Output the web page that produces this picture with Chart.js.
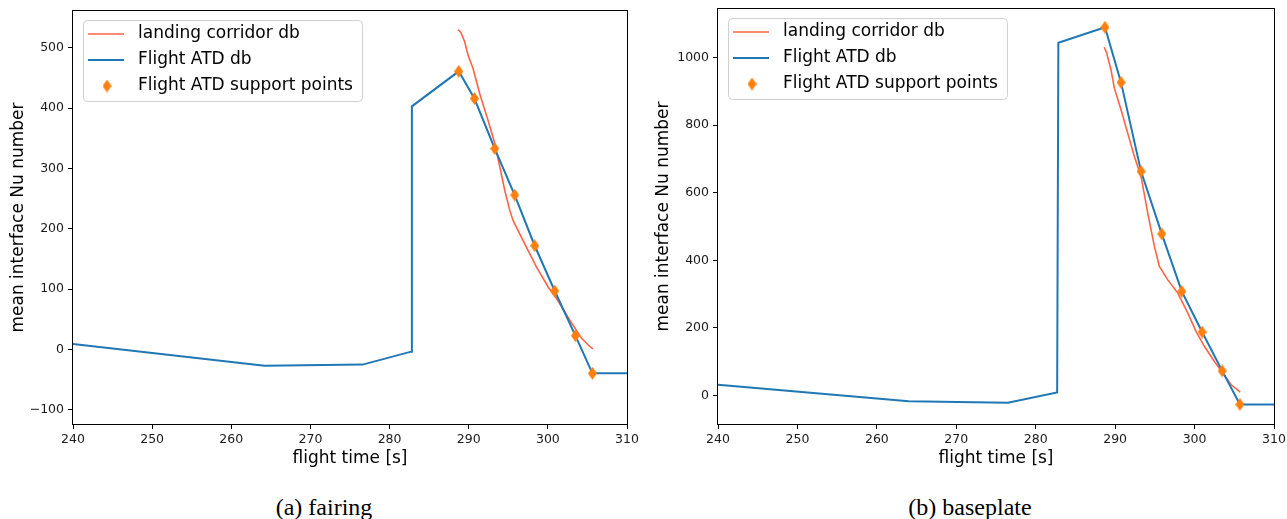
<!DOCTYPE html>
<html lang="en">
<head>
    <meta charset="UTF-8">
    <title>mean interface Nu number</title>
    <style>
        body { margin: 0; background: #fff; }
        #page { position: relative; width: 1287px; height: 519px; overflow: hidden; }
        canvas { position: absolute; top: 0; }
        #fairingChart { left: 0; }
        #baseplateChart { left: 645px; }
        .caption {
            position: absolute; top: 493px; width: 300px; text-align: center;
            font-family: "Liberation Serif", "DejaVu Serif", serif; font-size: 24px; line-height: 28px; color: #000;
        }
    </style>
</head>
<body>
<div id="page">
    <canvas id="fairingChart" width="640" height="480"></canvas>
    <canvas id="baseplateChart" width="642" height="480"></canvas>
    <div class="caption" style="left:174px">(a) fairing</div>
    <div class="caption" style="left:820px">(b) baseplate</div>
</div>

<script src="https://cdn.jsdelivr.net/npm/chart.js"></script>
<script>
    const timeTicks = [240, 250, 260, 270, 280, 290, 300, 310];

    // (a) fairing
    const fairingTicks = [-100, 0, 100, 200, 300, 400, 500];
    const fairingCorridorTime = [288.65, 288.99, 289.49, 289.91, 290.54, 291.39, 292.44, 293.29, 293.92, 294.55, 295.18, 295.6, 296.86, 298.55, 300.02, 301.08, 302.76, 304.24, 305.29, 305.7];
    const fairingCorridorNu = [530, 526, 510, 488, 466, 424, 380, 342, 303, 264, 231, 214, 181, 137, 104, 85, 49, 19, 5, 1];
    const fairingAtdTime = [240, 264.2, 276.6, 282.72, 282.82, 288.74, 290.72, 293.29, 295.81, 298.34, 300.87, 303.48, 305.63, 310];
    const fairingAtdNu = [9, -27, -25, -3.5, 403, 461, 416, 333, 256, 172, 97, 23, -39.5, -39.5];
    const fairingSupportTime = [288.74, 290.72, 293.29, 295.81, 298.34, 300.87, 303.48, 305.63];
    const fairingSupportNu = [461, 416, 333, 256, 172, 97, 23, -39.5];

    // (b) baseplate
    const baseplateTicks = [0, 200, 400, 600, 800, 1000];
    const baseplateCorridorTime = [288.63, 288.93, 289.48, 289.9, 290.74, 291.58, 292.42, 293.26, 294.1, 294.94, 295.57, 296.63, 297.89, 299.15, 300.2, 301.25, 302.5, 303.57, 304.61, 305.75];
    const baseplateCorridorNu = [1030, 1013, 963, 909, 845, 776, 707, 648, 540, 441, 382, 342, 303, 244, 189, 145, 101, 66, 32, 10];
    const baseplateAtdTime = [240, 264.0, 276.5, 282.7, 282.85, 288.72, 290.74, 293.26, 295.87, 298.39, 300.95, 303.48, 305.71, 310];
    const baseplateAtdNu = [32, -17, -21, 9, 1043, 1089, 926, 663, 478, 308, 188, 73, -26, -26];
    const baseplateSupportTime = [288.72, 290.74, 293.26, 295.87, 298.39, 300.95, 303.48, 305.71];
    const baseplateSupportNu = [1089, 926, 663, 478, 308, 188, 73, -26];

    const pts = (xs, ys) => xs.map((x, i) => ({ x: x, y: ys[i] }));

    // thin diamond like matplotlib 'd'
    const diamond = document.createElement('canvas');
    diamond.width = 9;
    diamond.height = 13;
    const dctx = diamond.getContext('2d');
    dctx.fillStyle = '#ff7f0e';
    dctx.beginPath();
    dctx.moveTo(4.5, 0); dctx.lineTo(9, 6.5); dctx.lineTo(4.5, 13); dctx.lineTo(0, 6.5);
    dctx.closePath();
    dctx.fill();

    // axes frame + boxed legend inside the plot
    const frameAndLegend = {
        id: 'frameAndLegend',
        afterDraw(chart) {
            const c = chart.ctx, a = chart.chartArea;
            c.save();
            c.strokeStyle = '#000';
            c.lineWidth = 1;
            c.strokeRect(Math.round(a.left) - 0.5, Math.round(a.top) - 0.5, Math.round(a.right - a.left) + 1, Math.round(a.bottom - a.top) + 1);

            const lx = Math.round(a.left) + 10, ly = Math.round(a.top) + 9;
            c.font = '17px "DejaVu Sans"';
            const sets = chart.data.datasets;
            const w = 55 + Math.max(...sets.map(d => c.measureText(d.label).width)) + 9;
            const h = 81;
            c.beginPath();
            c.roundRect(lx + 0.5, ly + 0.5, w, h, 4);
            c.fillStyle = 'rgba(255,255,255,0.8)';
            c.fill();
            c.strokeStyle = '#d0d0d0';
            c.stroke();
            sets.forEach((d, i) => {
                const y = ly + 14 + i * 26;
                if (d.showLine === false) {
                    c.drawImage(diamond, lx + 24 - 4.5, y - 6.5);
                } else {
                    c.beginPath();
                    c.moveTo(lx + 5, y);
                    c.lineTo(lx + 41, y);
                    c.strokeStyle = d.borderColor;
                    c.lineWidth = d.borderWidth;
                    c.stroke();
                }
                c.fillStyle = '#000';
                c.textBaseline = 'middle';
                c.fillText(d.label, lx + 55, y);
            });
            c.restore();
        }
    };

    const tickFont = { family: 'DejaVu Sans', size: 12.5 };
    const titleFont = { family: 'DejaVu Sans', size: 17 };

    function makeChart(id, corridor, atd, support, yTicks, yMin, yMax, yWidth, topPad) {
        return new Chart(document.getElementById(id), {
            type: 'line',
            data: {
                datasets: [{
                    label: 'landing corridor db',
                    data: corridor,
                    borderColor: 'tomato',
                    borderWidth: 1.6,
                    pointRadius: 0,
                    tension: 0,
                    order: 3
                }, {
                    label: 'Flight ATD db',
                    data: atd,
                    borderColor: '#1f77b4',
                    borderWidth: 2,
                    pointRadius: 0,
                    tension: 0,
                    order: 2
                }, {
                    label: 'Flight ATD support points',
                    data: support,
                    showLine: false,
                    pointStyle: diamond,
                    pointRadius: 6,
                    order: 1
                }]
            },
            options: {
                responsive: false,
                devicePixelRatio: 1,
                animation: false,
                events: [],
                layout: { padding: { left: 0, right: 13, top: topPad, bottom: 0 } },
                plugins: { legend: { display: false }, tooltip: { enabled: false } },
                scales: {
                    x: {
                        type: 'linear',
                        min: 240,
                        max: 310,
                        afterBuildTicks: s => { s.ticks = timeTicks.map(v => ({ value: v })); },
                        afterFit: s => { s.height = 56; s.paddingLeft = 0; s.paddingRight = 0; },
                        border: { display: false },
                        grid: { drawOnChartArea: false, tickLength: 5, color: '#000' },
                        ticks: { font: tickFont, color: '#1a1a1a', padding: 3, maxRotation: 0, autoSkip: false },
                        title: { display: true, text: 'flight time [s]', font: titleFont, color: '#000', padding: { top: 0, bottom: 11 } }
                    },
                    y: {
                        type: 'linear',
                        min: yMin,
                        max: yMax,
                        afterBuildTicks: s => { s.ticks = yTicks.map(v => ({ value: v })); },
                        afterFit: s => { s.width = yWidth; s.paddingTop = 0; s.paddingBottom = 0; },
                        border: { display: false },
                        grid: { drawOnChartArea: false, tickLength: 5, color: '#000' },
                        ticks: { font: tickFont, color: '#1a1a1a', padding: 4, callback: v => String(v).replace('-', '\u2212') },
                        title: { display: true, text: 'mean interface Nu number', font: titleFont, color: '#000', padding: { top: 8, bottom: 0 } }
                    }
                }
            },
            plugins: [frameAndLegend]
        });
    }

    makeChart('fairingChart',
        pts(fairingCorridorTime, fairingCorridorNu),
        pts(fairingAtdTime, fairingAtdNu),
        pts(fairingSupportTime, fairingSupportNu),
        fairingTicks, -123.4, 561, 73, 11);

    makeChart('baseplateChart',
        pts(baseplateCorridorTime, baseplateCorridorNu),
        pts(baseplateAtdTime, baseplateAtdNu),
        pts(baseplateSupportTime, baseplateSupportNu),
        baseplateTicks, -84, 1143, 73, 9);
</script>
</body>
</html>
